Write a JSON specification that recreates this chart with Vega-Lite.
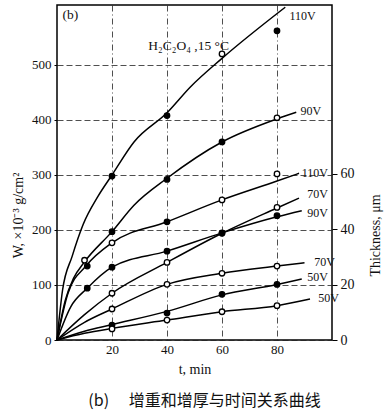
{
  "$schema": "https://vega.github.io/schema/vega-lite/v6.json",
  "width": 275,
  "height": 335,
  "autosize": "none",
  "padding": {"left": 57, "top": 5, "right": 55, "bottom": 71},
  "background": "white",
  "config": {
    "view": {"stroke": "black", "strokeWidth": 1.5},
    "font": "Liberation Serif"
  },
  "title": {
    "text": "(b)　 增重和增厚与时间关系曲线",
    "orient": "bottom",
    "anchor": "middle",
    "font": "Noto Sans CJK SC",
    "fontSize": 16,
    "fontWeight": "normal",
    "color": "#111",
    "offset": 17,
    "dx": 10
  },
  "datasets": {
    "wLines": [
      {"c": "W110", "t": 0, "v": 0}, {"c": "W110", "t": 2, "v": 90}, {"c": "W110", "t": 5.5, "v": 152}, {"c": "W110", "t": 9.5, "v": 210}, {"c": "W110", "t": 15, "v": 262}, {"c": "W110", "t": 20, "v": 300}, {"c": "W110", "t": 28, "v": 360}, {"c": "W110", "t": 40, "v": 413}, {"c": "W110", "t": 48.5, "v": 460}, {"c": "W110", "t": 60, "v": 512}, {"c": "W110", "t": 83, "v": 605},
      {"c": "W90", "t": 0, "v": 0}, {"c": "W90", "t": 3, "v": 72}, {"c": "W90", "t": 6, "v": 112}, {"c": "W90", "t": 10, "v": 142}, {"c": "W90", "t": 20, "v": 197}, {"c": "W90", "t": 28, "v": 245}, {"c": "W90", "t": 40, "v": 294}, {"c": "W90", "t": 60, "v": 360}, {"c": "W90", "t": 80, "v": 402}, {"c": "W90", "t": 87, "v": 414},
      {"c": "W70", "t": 0, "v": 0}, {"c": "W70", "t": 10, "v": 46}, {"c": "W70", "t": 20, "v": 85}, {"c": "W70", "t": 40, "v": 141}, {"c": "W70", "t": 60, "v": 194}, {"c": "W70", "t": 80, "v": 240}, {"c": "W70", "t": 88, "v": 258},
      {"c": "W50", "t": 0, "v": 0}, {"c": "W50", "t": 10, "v": 16}, {"c": "W50", "t": 20, "v": 28}, {"c": "W50", "t": 40, "v": 52}, {"c": "W50", "t": 60, "v": 82}, {"c": "W50", "t": 80, "v": 101}, {"c": "W50", "t": 89, "v": 111}
    ],
    "wPoints": [
      {"c": "W110", "t": 20, "v": 298, "m": "filled"}, {"c": "W110", "t": 40, "v": 408, "m": "filled"}, {"c": "W110", "t": 60, "v": 520, "m": "open"}, {"c": "W110", "t": 80, "v": 562, "m": "filled"},
      {"c": "W90", "t": 10, "v": 145, "m": "open"}, {"c": "W90", "t": 20, "v": 197, "m": "filled"}, {"c": "W90", "t": 40, "v": 292, "m": "filled"}, {"c": "W90", "t": 60, "v": 360, "m": "filled"}, {"c": "W90", "t": 80, "v": 404, "m": "open"},
      {"c": "W70", "t": 20, "v": 85, "m": "open"}, {"c": "W70", "t": 40, "v": 141, "m": "open"}, {"c": "W70", "t": 60, "v": 194, "m": "open"}, {"c": "W70", "t": 80, "v": 241, "m": "open"},
      {"c": "W50", "t": 20, "v": 27, "m": "filled"}, {"c": "W50", "t": 40, "v": 49, "m": "filled"}, {"c": "W50", "t": 60, "v": 83, "m": "filled"}, {"c": "W50", "t": 80, "v": 101, "m": "filled"}
    ],
    "wLabels": [
      {"label": "110V", "t": 84.5, "v": 589, "k": "curve"},
      {"label": "90V", "t": 88.5, "v": 417, "k": "curve"},
      {"label": "70V", "t": 91, "v": 266, "k": "curve"},
      {"label": "50V", "t": 91, "v": 114, "k": "curve"},
      {"label": "(b)", "t": 2, "v": 590, "k": "note"},
      {"label": "H₂C₂O₄ ,15 °C", "t": 33.2, "v": 535, "k": "note"}
    ],
    "tLines": [
      {"c": "T110", "t": 0, "v": 0}, {"c": "T110", "t": 4, "v": 16.9}, {"c": "T110", "t": 10.5, "v": 26.7}, {"c": "T110", "t": 20, "v": 35.1}, {"c": "T110", "t": 40, "v": 42.7}, {"c": "T110", "t": 60, "v": 50.6}, {"c": "T110", "t": 80, "v": 57.4}, {"c": "T110", "t": 88, "v": 60.2},
      {"c": "T90", "t": 0, "v": 0}, {"c": "T90", "t": 5, "v": 12.0}, {"c": "T90", "t": 11, "v": 18.7}, {"c": "T90", "t": 20, "v": 26.3}, {"c": "T90", "t": 40, "v": 32.1}, {"c": "T90", "t": 60, "v": 38.7}, {"c": "T90", "t": 80, "v": 44.5}, {"c": "T90", "t": 89, "v": 46.7},
      {"c": "T70", "t": 0, "v": 0}, {"c": "T70", "t": 10, "v": 6.4}, {"c": "T70", "t": 20, "v": 11.2}, {"c": "T70", "t": 40, "v": 20.1}, {"c": "T70", "t": 60, "v": 24.1}, {"c": "T70", "t": 80, "v": 26.7}, {"c": "T70", "t": 90, "v": 27.9},
      {"c": "T50", "t": 0, "v": 0}, {"c": "T50", "t": 10, "v": 2.4}, {"c": "T50", "t": 20, "v": 4.2}, {"c": "T50", "t": 40, "v": 7.2}, {"c": "T50", "t": 60, "v": 10.2}, {"c": "T50", "t": 80, "v": 12.4}, {"c": "T50", "t": 92, "v": 14.8}
    ],
    "tPoints": [
      {"c": "T110", "t": 11, "v": 26.7, "m": "filled"}, {"c": "T110", "t": 20, "v": 35.1, "m": "open"}, {"c": "T110", "t": 40, "v": 42.7, "m": "filled"}, {"c": "T110", "t": 60, "v": 50.6, "m": "open"}, {"c": "T110", "t": 80, "v": 60.0, "m": "open"},
      {"c": "T90", "t": 11, "v": 18.7, "m": "filled"}, {"c": "T90", "t": 20, "v": 26.3, "m": "filled"}, {"c": "T90", "t": 40, "v": 32.1, "m": "filled"}, {"c": "T90", "t": 60, "v": 38.7, "m": "filled"}, {"c": "T90", "t": 80, "v": 44.9, "m": "filled"},
      {"c": "T70", "t": 20, "v": 11.2, "m": "open"}, {"c": "T70", "t": 40, "v": 20.1, "m": "open"}, {"c": "T70", "t": 60, "v": 24.1, "m": "open"}, {"c": "T70", "t": 80, "v": 26.7, "m": "open"},
      {"c": "T50", "t": 20, "v": 4.0, "m": "open"}, {"c": "T50", "t": 40, "v": 7.2, "m": "open"}, {"c": "T50", "t": 60, "v": 10.2, "m": "open"}, {"c": "T50", "t": 80, "v": 12.4, "m": "open"}
    ],
    "tLabels": [
      {"label": "110V", "t": 89, "v": 60.2},
      {"label": "90V", "t": 91, "v": 45.9},
      {"label": "70V", "t": 93.5, "v": 28.1},
      {"label": "50V", "t": 95, "v": 15.2}
    ]
  },
  "layer": [
    {
      "encoding": {
        "x": {
          "field": "t", "type": "quantitative",
          "scale": {"domain": [0, 100], "nice": false, "zero": false},
          "axis": {
            "title": "t, min", "values": [20, 40, 60, 80], "orient": "bottom",
            "grid": true, "gridDash": [6, 3, 1, 3], "gridColor": "#222", "gridWidth": 0.8,
            "domain": false, "ticks": false, "labelPadding": 3,
            "labelFont": "Liberation Serif", "labelFontSize": 13, "labelColor": "#111",
            "titleFont": "Liberation Serif", "titleFontSize": 14, "titleFontWeight": "normal", "titleColor": "#111", "titlePadding": 6
          }
        },
        "y": {
          "field": "v", "type": "quantitative",
          "scale": {"domain": [0, 609], "nice": false},
          "axis": {
            "title": "W, ×10⁻³ g/cm²", "values": [0, 100, 200, 300, 400, 500], "orient": "left",
            "grid": true, "gridDash": [6, 3], "gridColor": "#222", "gridWidth": 0.8,
            "domain": false, "ticks": true, "tickSize": 3, "tickColor": "black", "labelPadding": 3,
            "labelFont": "Liberation Serif", "labelFontSize": 13, "labelColor": "#111",
            "titleFont": "Liberation Serif", "titleFontSize": 14, "titleFontWeight": "normal", "titleColor": "#111", "titlePadding": 6, "titleY": 210
          }
        }
      },
      "layer": [
        {
          "data": {"name": "wLines"},
          "mark": {"type": "line", "color": "black", "strokeWidth": 1.5, "interpolate": "monotone"},
          "encoding": {"detail": {"field": "c"}}
        },
        {
          "data": {"name": "wPoints"},
          "mark": {"type": "point", "shape": "circle", "filled": true, "stroke": "black", "strokeWidth": 1.3, "size": 30, "opacity": 1},
          "encoding": {
            "fill": {"field": "m", "type": "nominal", "scale": {"domain": ["filled", "open"], "range": ["black", "white"]}, "legend": null}
          }
        },
        {
          "data": {"name": "wLabels"},
          "mark": {"type": "text", "align": "left", "baseline": "middle", "font": "Liberation Serif", "color": "#111"},
          "encoding": {
            "text": {"field": "label"},
            "size": {"field": "k", "type": "nominal", "scale": {"domain": ["curve", "note"], "range": [12, 13.5]}, "legend": null}
          }
        }
      ]
    },
    {
      "encoding": {
        "x": {"field": "t", "type": "quantitative", "scale": {"domain": [0, 100], "nice": false, "zero": false}},
        "y": {
          "field": "v", "type": "quantitative",
          "scale": {"domain": [0, 121], "nice": false},
          "axis": {
            "title": "Thickness, μm", "values": [0, 20, 40, 60], "orient": "right",
            "grid": false, "domain": false, "ticks": true, "tickSize": 5, "tickColor": "black", "labelPadding": 3,
            "labelFont": "Liberation Serif", "labelFontSize": 14, "labelColor": "#111",
            "titleFont": "Liberation Serif", "titleFontSize": 14, "titleFontWeight": "normal", "titleColor": "#111",
            "titleAngle": 270, "titlePadding": 28, "titleY": 230
          }
        }
      },
      "layer": [
        {
          "data": {"name": "tLines"},
          "mark": {"type": "line", "color": "black", "strokeWidth": 1.5, "interpolate": "monotone"},
          "encoding": {"detail": {"field": "c"}}
        },
        {
          "data": {"name": "tPoints"},
          "mark": {"type": "point", "shape": "circle", "filled": true, "stroke": "black", "strokeWidth": 1.3, "size": 30, "opacity": 1},
          "encoding": {
            "fill": {"field": "m", "type": "nominal", "scale": {"domain": ["filled", "open"], "range": ["black", "white"]}, "legend": null}
          }
        },
        {
          "data": {"name": "tLabels"},
          "mark": {"type": "text", "align": "left", "baseline": "middle", "font": "Liberation Serif", "fontSize": 12, "color": "#111"},
          "encoding": {"text": {"field": "label"}}
        }
      ]
    }
  ],
  "resolve": {"scale": {"y": "independent"}, "axis": {"y": "independent"}}
}
